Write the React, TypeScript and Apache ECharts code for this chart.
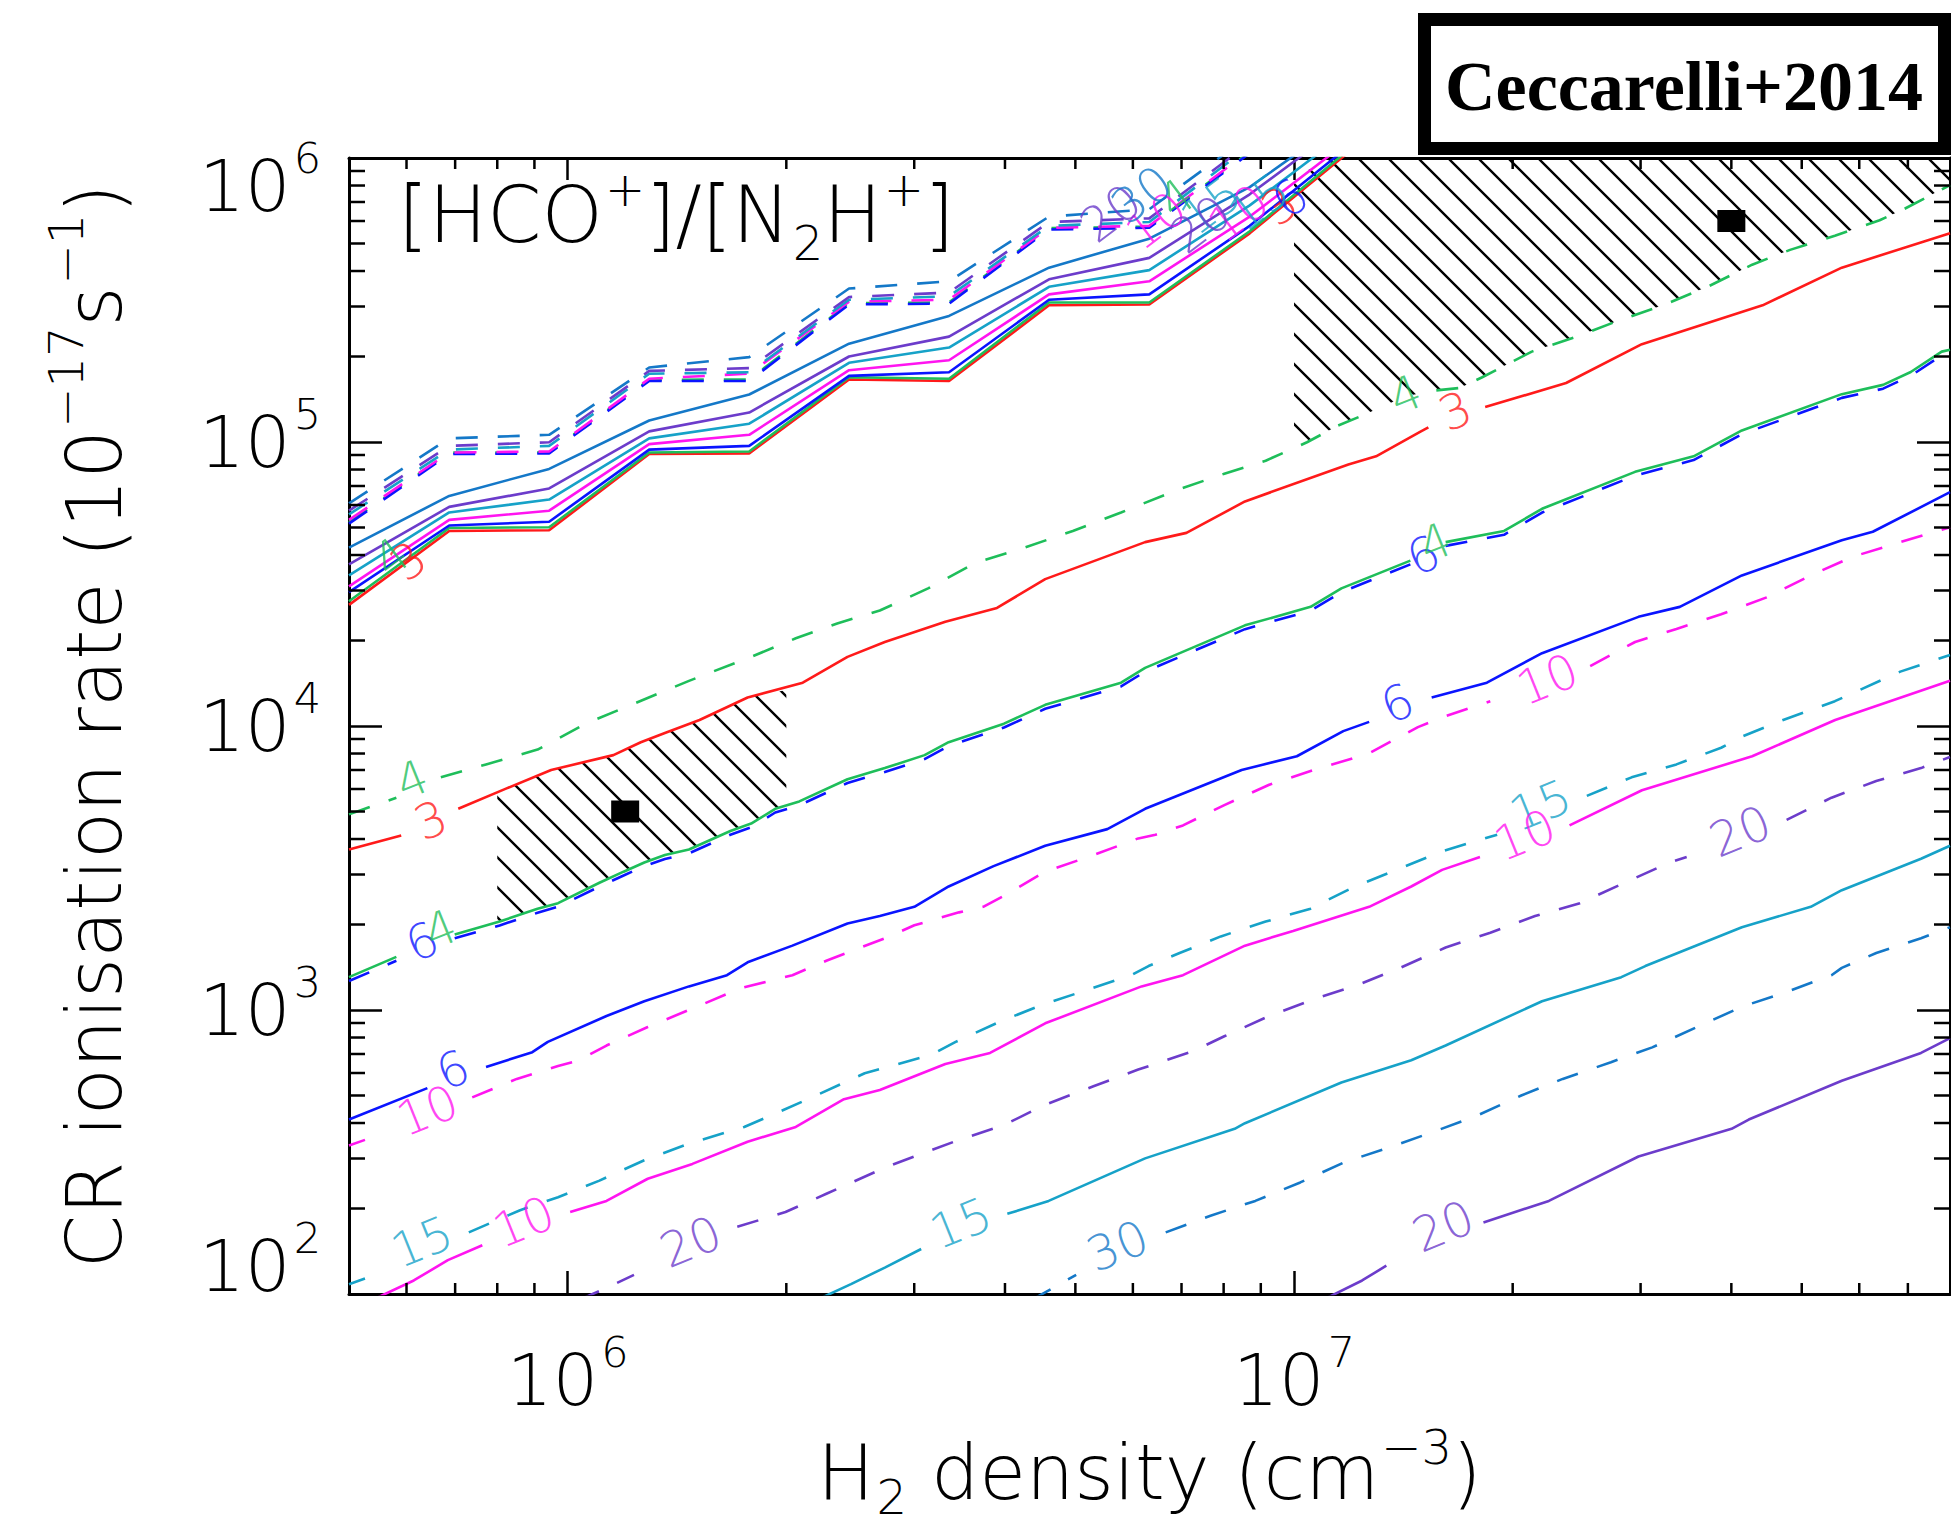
import React, { useEffect, useRef } from "react";
import * as echarts from "echarts";

// ---------- axis ranges & ticks ----------
const X_MIN = 5e5;
const X_MAX = 8e7;
const Y_MIN = 1e2;
const Y_MAX = 1e6;
const xMinorTicks = [6e5, 7e5, 8e5, 9e5, 2e6, 3e6, 4e6, 5e6, 6e6, 7e6, 8e6, 9e6, 2e7, 3e7, 4e7, 5e7, 6e7, 7e7];
const yMinorTicks = [
  2e2, 3e2, 4e2, 5e2, 6e2, 7e2, 8e2, 9e2,
  2e3, 3e3, 4e3, 5e3, 6e3, 7e3, 8e3, 9e3,
  2e4, 3e4, 4e4, 5e4, 6e4, 7e4, 8e4, 9e4,
  2e5, 3e5, 4e5, 5e5, 6e5, 7e5, 8e5, 9e5,
];

type Pt = [number, number] | null;

// ---------- upper branch contours (solid) ----------
const upperRed3: Pt[] = [[5.0e5, 2.67e4], [6.87e5, 4.86e4], [9.43e5, 4.89e4], [1.295e6, 9.07e4], [1.778e6, 9.12e4], [2.44e6, 1.66e5], [3.35e6, 1.64e5], [4.6e6, 3.03e5], [6.32e6, 3.05e5], [8.69e6, 5.43e5], [1.19e7, 1.05e6]];
const upperGreen4: Pt[] = [[5.0e5, 2.75e4], [6.87e5, 4.98e4], [9.43e5, 5.01e4], [1.295e6, 9.18e4], [1.778e6, 9.26e4], [2.44e6, 1.69e5], [3.35e6, 1.67e5], [4.6e6, 3.1e5], [6.32e6, 3.1e5], [8.69e6, 5.52e5], [1.19e7, 1.07e6]];
const upperBlue6: Pt[] = [[5.0e5, 2.96e4], [6.87e5, 5.08e4], [9.43e5, 5.24e4], [1.295e6, 9.4e4], [1.778e6, 9.69e4], [2.44e6, 1.71e5], [3.35e6, 1.76e5], [4.6e6, 3.17e5], [6.32e6, 3.31e5], [8.69e6, 5.77e5], [1.19e7, 1.1e6]];
const upperMagenta10: Pt[] = [[5.0e5, 3.1e4], [6.87e5, 5.32e4], [9.43e5, 5.73e4], [1.295e6, 9.83e4], [1.778e6, 1.06e5], [2.44e6, 1.79e5], [3.35e6, 1.94e5], [4.6e6, 3.31e5], [6.32e6, 3.68e5], [8.69e6, 6.22e5], [1.19e7, 1.15e6]];
const upperTeal15: Pt[] = [[5.0e5, 3.39e4], [6.87e5, 5.65e4], [9.43e5, 6.27e4], [1.295e6, 1.03e5], [1.778e6, 1.16e5], [2.44e6, 1.9e5], [3.35e6, 2.15e5], [4.6e6, 3.52e5], [6.32e6, 4.03e5], [8.69e6, 6.81e5], [1.19e7, 1.25e6]];
const upperPurple20: Pt[] = [[5.0e5, 3.71e4], [6.87e5, 5.91e4], [9.43e5, 6.86e4], [1.295e6, 1.09e5], [1.778e6, 1.27e5], [2.44e6, 2.0e5], [3.35e6, 2.35e5], [4.6e6, 3.74e5], [6.32e6, 4.45e5], [8.69e6, 7.45e5], [1.19e7, 1.35e6]];
const upperSteel30: Pt[] = [[5.0e5, 4.25e4], [6.87e5, 6.46e4], [9.43e5, 8.04e4], [1.295e6, 1.19e5], [1.778e6, 1.47e5], [2.44e6, 2.22e5], [3.35e6, 2.78e5], [4.6e6, 4.11e5], [6.32e6, 5.2e5], [8.69e6, 7.9e5], [1.19e7, 1.4e6]];

// ---------- upper branch contours (dashed) ----------
const upperGreenDash4: Pt[] = [[5.0e5, 5.22e4], [6.87e5, 9.17e4], [9.43e5, 9.2e4], [1.295e6, 1.655e5], [1.778e6, 1.66e5], [2.44e6, 3.08e5], [3.35e6, 3.1e5], [4.6e6, 5.66e5], [6.32e6, 5.74e5], [8.69e6, 1.05e6]];
const upperBlueDash6: Pt[] = [[5.0e5, 5.16e4], [6.87e5, 9.07e4], [9.43e5, 9.12e4], [1.295e6, 1.64e5], [1.778e6, 1.64e5], [2.44e6, 3.05e5], [3.35e6, 3.07e5], [4.6e6, 5.6e5], [6.32e6, 5.68e5], [8.69e6, 1.04e6]];
const upperMagentaDash10: Pt[] = [[5.0e5, 5.32e4], [6.87e5, 9.18e4], [9.43e5, 9.26e4], [1.295e6, 1.67e5], [1.778e6, 1.74e5], [2.44e6, 3.12e5], [3.35e6, 3.17e5], [4.6e6, 5.68e5], [6.32e6, 5.77e5], [8.69e6, 1.06e6]];
const upperTealDash15: Pt[] = [[5.0e5, 5.56e4], [6.87e5, 9.4e4], [9.43e5, 9.69e4], [1.295e6, 1.74e5], [1.778e6, 1.76e5], [2.44e6, 3.17e5], [3.35e6, 3.26e5], [4.6e6, 5.77e5], [6.32e6, 5.95e5], [8.69e6, 1.1e6]];
const upperPurpleDash20: Pt[] = [[5.0e5, 5.73e4], [6.87e5, 9.69e4], [9.43e5, 9.98e4], [1.295e6, 1.78e5], [1.778e6, 1.82e5], [2.44e6, 3.24e5], [3.35e6, 3.36e5], [4.6e6, 5.95e5], [6.32e6, 6.13e5], [8.69e6, 1.13e6]];
const upperSteelDash30: Pt[] = [[5.0e5, 6.08e4], [6.87e5, 1.03e5], [9.43e5, 1.06e5], [1.295e6, 1.83e5], [1.778e6, 1.99e5], [2.44e6, 3.47e5], [3.35e6, 3.68e5], [4.6e6, 6.22e5], [6.32e6, 6.6e5], [8.69e6, 1.2e6]];

// ---------- lower branch contours ----------
const lowerRed3: Pt[] = [[5.0e5, 3674], [5.9e5, 4118], null, [7.07e5, 5110], [8.24e5, 6029], [9.49e5, 7003], [1.156e6, 7896], [1.261e6, 8768], [1.361e6, 9452], [1.519e6, 10500], [1.769e6, 12600], [2.107e6, 14210], [2.428e6, 17520], [2.733e6, 19760], [3.311e6, 23300], [3.9e6, 26040], [4.544e6, 32900], [6.237e6, 44410], [7.11e6, 47860], [8.56e6, 61770], [1.188e7, 83370], [1.297e7, 89040], [1.491e7, 1.085e5], [1.531e7, 1.125e5], null, [1.833e7, 1.327e5], [2.369e7, 1.613e5], [3.012e7, 2.21e5], [4.416e7, 3.028e5], [5.677e7, 4.111e5], [8.0e7, 5.435e5]];
const lowerGreenDash4: Pt[] = [[5.0e5, 4885], [5.81e5, 5592], null, [6.69e5, 6595], [7.72e5, 7325], [9.09e5, 8259], [1.059e6, 10190], [1.469e6, 14420], [1.789e6, 17520], [2.061e6, 20360], [2.35e6, 22960], [2.69e6, 25500], [3.135e6, 30520], [3.652e6, 37650], [4.256e6, 42460], [4.96e6, 48600], [5.779e6, 56460], [6.88e6, 67560], [8.018e6, 77330], [9.14e6, 85910], [1.042e7, 99800], [1.15e7, 1.142e5], [1.269e7, 1.269e5], null, [1.57e7, 1.52e5], [1.69e7, 1.55e5], [1.813e7, 1.687e5], [2.125e7, 2.081e5], [2.448e7, 2.347e5], [2.791e7, 2.67e5], [3.217e7, 3.028e5], [3.708e7, 3.518e5], [4.273e7, 4.211e5], [4.818e7, 4.748e5], [5.554e7, 5.321e5], [6.4e7, 6.036e5], [6.909e7, 6.602e5], [8.0e7, 8.027e5]];
const lowerGreen4: Pt[] = [[5.0e5, 1305], [5.81e5, 1539], null, [6.99e5, 1843], [8.06e5, 2048], [9.09e5, 2274], [9.7e5, 2378], [1.106e6, 2805], [1.194e6, 3069], [1.275e6, 3308], [1.361e6, 3513], [1.469e6, 3674], [1.675e6, 4269], [1.789e6, 4533], [1.931e6, 5110], [2.084e6, 5427], [2.428e6, 6496], [2.733e6, 7108], [3.1e6, 7896], [3.346e6, 8768], [3.987e6, 10190], [4.544e6, 11870], [5.779e6, 14210], [6.237e6, 16020], [8.56e6, 22620], [1.054e7, 26270], [1.162e7, 30520], [1.446e7, 38220], null, [1.617e7, 44410], [1.946e7, 48600], [2.195e7, 58180], [2.948e7, 78510], [3.549e7, 89040], [4.136e7, 1.098e5], [5.677e7, 1.474e5], [6.471e7, 1.589e5], [7.064e7, 1.764e5], [7.792e7, 2.081e5], [8.0e7, 2.112e5]];
const lowerBlueDash6: Pt[] = [[5.0e5, 1265], [5.81e5, 1490], null, [6.99e5, 1790], [8.06e5, 1985], [9.09e5, 2200], [9.7e5, 2310], [1.106e6, 2720], [1.194e6, 2975], [1.275e6, 3210], [1.361e6, 3400], [1.469e6, 3560], [1.675e6, 4140], [1.789e6, 4400], [1.931e6, 4960], [2.084e6, 5260], [2.428e6, 6300], [2.733e6, 6890], [3.1e6, 7650], [3.346e6, 8500], [3.987e6, 9880], [4.544e6, 11500], [5.779e6, 13780], [6.237e6, 15540], [8.56e6, 21930], [1.054e7, 25480], [1.162e7, 29600], [1.446e7, 37070], null, [1.617e7, 43080], [1.946e7, 47140], [2.195e7, 56430], [2.948e7, 76150], [3.549e7, 86370], [4.136e7, 1.065e5], [5.677e7, 1.43e5], [6.471e7, 1.541e5], [7.064e7, 1.711e5], [7.792e7, 2.02e5], [8.0e7, 2.05e5]];
const lowerBlue6: Pt[] = [[5.0e5, 411.5], [6.41e5, 530.9], null, [7.72e5, 630], [8.94e5, 710.3], [9.39e5, 772.3], [1.131e6, 952.8], [1.275e6, 1074], [1.469e6, 1211], [1.657e6, 1326], [1.769e6, 1472], [2.039e6, 1685], [2.428e6, 2017], [2.69e6, 2142], [3.001e6, 2308], [3.346e6, 2722], [3.858e6, 3211], [4.544e6, 3787], [5.533e6, 4334], [6.237e6, 5110], [8.47e6, 7002], [1.009e7, 7824], [1.169e7, 9594], [1.269e7, 10340], null, [1.547e7, 12600], [1.843e7, 14210], [2.195e7, 18050], [2.98e7, 24230], [3.397e7, 26270], [4.136e7, 33900], [5.677e7, 45080], [6.263e7, 48300], [8.0e7, 66560]];
const lowerMagentaDash10: Pt[] = [[5.0e5, 333.5], [5.26e5, 348.9], null, [7.39e5, 492.5], [8.51e5, 572], [9.7e5, 635.6], [1.036e6, 664.8], [1.131e6, 749.6], [1.289e6, 871], [1.485e6, 1012], [1.731e6, 1193], [2.039e6, 1326], [2.275e6, 1494], [2.733e6, 1789], [3.001e6, 1987], [3.458e6, 2207], [3.733e6, 2308], [3.987e6, 2526], [4.544e6, 3069], [5.295e6, 3512], [6.103e6, 4020], [6.446e6, 4143], [7.033e6, 4466], [8.018e6, 5267], [9.243e6, 6213], [1.065e7, 7002], [1.269e7, 8013], [1.384e7, 9036], [1.481e7, 9910], [1.617e7, 10840], [1.863e7, 12230], null, [2.557e7, 16260], [2.948e7, 19760], [3.361e7, 21950], [3.873e7, 24750], [4.464e7, 28320], [5.145e7, 33900], [5.867e7, 39390], [6.834e7, 44410], [8.0e7, 50070]];
const lowerTealDash15: Pt[] = [[5.0e5, 108.3], [5.26e5, 113.3], null, [7.31e5, 164.8], [8.6e5, 197.3], [9.7e5, 219.2], [1.106e6, 250.8], [1.275e6, 295.8], [1.469e6, 338.5], [1.75e6, 387.4], [1.952e6, 436.9], [2.226e6, 507.6], [2.564e6, 598.6], [3.169e6, 695.7], [3.421e6, 772.3], [3.942e6, 911], [4.495e6, 1042], [5.181e6, 1175], [5.97e6, 1326], [6.305e6, 1428], [6.958e6, 1587], [7.93e6, 1816], [9.14e6, 2048], [1.054e7, 2274], [1.089e7, 2378], [1.214e7, 2722], [1.384e7, 3116], [1.599e7, 3620], [1.904e7, 4143], null, [2.53e7, 5677], [2.916e7, 6595], [3.361e7, 7325], [3.873e7, 8383], [4.136e7, 9174], [4.714e7, 10500], [5.554e7, 12230], [6.834e7, 15540], [8.0e7, 17790]];
const lowerMagenta10: Pt[] = [[5.38e5, 95.2], [6.14e5, 111.6], [6.84e5, 131.6], [7.63e5, 148.4], null, [1.008e6, 194.4], [1.131e6, 212.7], [1.289e6, 254.6], [1.485e6, 287.1], [1.769e6, 343.7], [2.061e6, 387.4], [2.401e6, 485.2], [2.69e6, 522.9], [3.311e6, 645.2], [3.815e6, 706], [4.544e6, 897.6], [6.168e6, 1211], [7.033e6, 1326], [8.56e6, 1685], [9.97e6, 1899], [1.269e7, 2308], [1.45e7, 2722], [1.599e7, 3115], [1.803e7, 3460], null, [2.395e7, 4466], [3.013e7, 5938], [4.273e7, 7824], [5.559e7, 10500], [8.0e7, 14420]];
const lowerPurpleDash20: Pt[] = [[1.036e6, 95.2], [1.131e6, 105.1], [1.234e6, 116.8], null, [1.712e6, 172.4], [1.995e6, 194.4], [2.275e6, 225.8], [2.733e6, 278.6], [3.001e6, 304.8], [3.458e6, 348.9], [3.987e6, 393.3], [4.544e6, 464], [5.295e6, 538.9], [6.103e6, 616.9], [7.268e6, 716.8], [8.018e6, 808.2], [9.243e6, 952.8], [1.065e7, 1091], [1.228e7, 1229], [1.4e7, 1407], [1.617e7, 1660], [1.863e7, 1871], [2.147e7, 2142], [2.475e7, 2378], [2.853e7, 2806], [3.288e7, 3308], [3.472e7, 3460], null, [4.766e7, 4670], [5.495e7, 5592], [6.332e7, 6401], [7.298e7, 7108], [8.0e7, 7780]];
const lowerTeal15: Pt[] = [[2.201e6, 95.2], [2.455e6, 108.3], [2.733e6, 123.9], [3.067e6, 144], null, [4.03e6, 191.5], [4.594e6, 212.7], [6.237e6, 300.3], [8.285e6, 381.6], [8.56e6, 399.3], [1.162e7, 555.3], [1.45e7, 665], [1.617e7, 749.6], [2.195e7, 1074], [2.822e7, 1305], [3.045e7, 1428], [4.136e7, 1957], [5.145e7, 2308], [5.677e7, 2642], [7.298e7, 3409], [8.0e7, 3787]];
const lowerSteelDash30: Pt[] = [[4.35e6, 95.2], [5.013e6, 116.8], null, [6.658e6, 164.8], [7.674e6, 188.7], [8.845e6, 212.7], [1.02e7, 247.1], [1.175e7, 291.4], [1.354e7, 328.6], [1.547e7, 370.5], [1.784e7, 424], [2.055e7, 500.1], [2.344e7, 572], [2.731e7, 655], [3.113e7, 738.5], [3.588e7, 871], [4.136e7, 1027], [4.766e7, 1158], [5.495e7, 1326], [5.677e7, 1407], [6.332e7, 1587], [7.298e7, 1789], [8.0e7, 1957]];
const lowerPurple20: Pt[] = [[1.095e7, 95.2], [1.241e7, 111.6], [1.34e7, 125.8], null, [1.823e7, 178.7], [2.243e7, 212.7], [2.98e7, 304.8], [4.003e7, 381.6], [4.227e7, 411.5], [5.677e7, 563.8], [7.298e7, 706], [8.0e7, 796]];

// ---------- contour label anchor points (data coords) ----------
const upperRed3Labels: Pt[] = [[6.03e5, 3.82e4], [9.55e6, 6.81e5]];
const upperGreen4Labels: Pt[] = [[5.71e5, 3.94e4], [6.88e6, 7.23e5]];
const upperBlue6Labels: Pt[] = [[9.87e6, 7.23e5]];
const upperMagenta10Labels: Pt[] = [[6.45e6, 6.04e5], [8.38e6, 6.41e5]];
const upperTeal15Labels: Pt[] = [[7.68e6, 6.81e5]];
const upperPurple20Labels: Pt[] = [[5.59e6, 6.41e5], [7.43e6, 5.86e5]];
const upperSteel30Labels: Pt[] = [[6.17e6, 7.45e5]];
const upperTealDash15Labels: Pt[] = [[8.94e6, 7.01e5]];
const lowerRed3Labels: Pt[] = [[6.48e5, 4670], [1.667e7, 1.288e5]];
const lowerGreenDash4Labels: Pt[] = [[6.1e5, 6497], [1.423e7, 1.474e5]];
const lowerGreen4Labels: Pt[] = [[6.68e5, 1928], [1.564e7, 4.44e4]];
const lowerBlueDash6Labels: Pt[] = [[6.3e5, 1746], [1.506e7, 4.0e4]];
const lowerBlue6Labels: Pt[] = [[6.95e5, 617], [1.387e7, 1.205e4]];
const lowerMagentaDash10Labels: Pt[] = [[6.41e5, 444], [2.232e7, 1.464e4]];
const lowerTealDash15Labels: Pt[] = [[6.3e5, 153], [2.183e7, 5267]];
const lowerMagenta10Labels: Pt[] = [[8.7e5, 180], [2.078e7, 4143]];
const lowerPurpleDash20Labels: Pt[] = [[1.477e6, 153], [4.113e7, 4269]];
const lowerTeal15Labels: Pt[] = [[3.477e6, 178]];
const lowerSteelDash30Labels: Pt[] = [[5.715e6, 148]];
const lowerPurple20Labels: Pt[] = [[1.604e7, 173.5]];

// ---------- hatched (observed) regions & observed points ----------
const hatchRegion1: [number, number][] = [[8e5, 2040], [9.09e5, 2274], [9.7e5, 2378], [1.106e6, 2805], [1.194e6, 3069], [1.275e6, 3308], [1.361e6, 3513], [1.469e6, 3674], [1.675e6, 4269], [1.789e6, 4533], [1.931e6, 5110], [2.0e6, 5250], [2.0e6, 13400], [1.769e6, 12600], [1.519e6, 10500], [1.361e6, 9452], [1.261e6, 8768], [1.156e6, 7896], [9.49e5, 7003], [8.24e5, 6029], [8e5, 5830]];
const hatchRegion2: [number, number][] = [[1e7, 1.0e5], [1.042e7, 99800], [1.15e7, 1.142e5], [1.269e7, 1.269e5], [1.423e7, 1.45e5], [1.57e7, 1.52e5], [1.69e7, 1.55e5], [1.813e7, 1.687e5], [2.125e7, 2.081e5], [2.448e7, 2.347e5], [2.791e7, 2.67e5], [3.217e7, 3.028e5], [3.708e7, 3.518e5], [4.273e7, 4.211e5], [4.818e7, 4.748e5], [5.554e7, 5.321e5], [6.4e7, 6.036e5], [6.909e7, 6.602e5], [8e7, 8.027e5], [8e7, 1e6], [1.12e7, 1e6], [1e7, 8.5e5]];
const obsPoints: [number, number][] = [[1.2e6, 5.0e3], [4.0e7, 6.0e5]];

// ---------- styles ----------
const RED = "#ff1a1a";
const GREEN = "#1ebe5a";
const BLUE = "#0a14ff";
const MAGENTA = "#ff14f0";
const TEAL = "#16a2c8";
const PURPLE = "#6c3ccb";
const STEEL = "#1478c8";
const FONT = "'DejaVu Sans', sans-serif";
const FW = 200;
const DASH = [22, 20];

const UPPER_ROT = 37;
const LOWER_ROT = 22;

const contours = [
  { data: upperRed3, color: RED, dashed: false, text: "3", labels: upperRed3Labels, rot: UPPER_ROT },
  { data: upperGreen4, color: GREEN, dashed: false, text: "4", labels: upperGreen4Labels, rot: UPPER_ROT },
  { data: upperBlue6, color: BLUE, dashed: false, text: "6", labels: upperBlue6Labels, rot: UPPER_ROT },
  { data: upperMagenta10, color: MAGENTA, dashed: false, text: "10", labels: upperMagenta10Labels, rot: UPPER_ROT },
  { data: upperTeal15, color: TEAL, dashed: false, text: "15", labels: upperTeal15Labels, rot: UPPER_ROT },
  { data: upperPurple20, color: PURPLE, dashed: false, text: "20", labels: upperPurple20Labels, rot: UPPER_ROT },
  { data: upperSteel30, color: STEEL, dashed: false, text: "30", labels: upperSteel30Labels, rot: UPPER_ROT },
  { data: upperGreenDash4, color: GREEN, dashed: true, text: "4", labels: [], rot: UPPER_ROT },
  { data: upperBlueDash6, color: BLUE, dashed: true, text: "6", labels: [], rot: UPPER_ROT },
  { data: upperMagentaDash10, color: MAGENTA, dashed: true, text: "10", labels: [], rot: UPPER_ROT },
  { data: upperTealDash15, color: TEAL, dashed: true, text: "15", labels: upperTealDash15Labels, rot: UPPER_ROT },
  { data: upperPurpleDash20, color: PURPLE, dashed: true, text: "20", labels: [], rot: UPPER_ROT },
  { data: upperSteelDash30, color: STEEL, dashed: true, text: "30", labels: [], rot: UPPER_ROT },
  { data: lowerBlueDash6, color: BLUE, dashed: true, text: "6", labels: lowerBlueDash6Labels, rot: LOWER_ROT },
  { data: lowerGreenDash4, color: GREEN, dashed: true, text: "4", labels: lowerGreenDash4Labels, rot: LOWER_ROT },
  { data: lowerMagentaDash10, color: MAGENTA, dashed: true, text: "10", labels: lowerMagentaDash10Labels, rot: LOWER_ROT },
  { data: lowerTealDash15, color: TEAL, dashed: true, text: "15", labels: lowerTealDash15Labels, rot: LOWER_ROT },
  { data: lowerPurpleDash20, color: PURPLE, dashed: true, text: "20", labels: lowerPurpleDash20Labels, rot: LOWER_ROT },
  { data: lowerSteelDash30, color: STEEL, dashed: true, text: "30", labels: lowerSteelDash30Labels, rot: LOWER_ROT },
  { data: lowerRed3, color: RED, dashed: false, text: "3", labels: lowerRed3Labels, rot: LOWER_ROT },
  { data: lowerGreen4, color: GREEN, dashed: false, text: "4", labels: lowerGreen4Labels, rot: LOWER_ROT },
  { data: lowerBlue6, color: BLUE, dashed: false, text: "6", labels: lowerBlue6Labels, rot: LOWER_ROT },
  { data: lowerMagenta10, color: MAGENTA, dashed: false, text: "10", labels: lowerMagenta10Labels, rot: LOWER_ROT },
  { data: lowerTeal15, color: TEAL, dashed: false, text: "15", labels: lowerTeal15Labels, rot: LOWER_ROT },
  { data: lowerPurple20, color: PURPLE, dashed: false, text: "20", labels: lowerPurple20Labels, rot: LOWER_ROT },
];

function makeHatchPattern() {
  const s = 30;
  const c = document.createElement("canvas");
  c.width = s;
  c.height = s;
  const ctx = c.getContext("2d")!;
  ctx.strokeStyle = "#000";
  ctx.lineWidth = 2.4;
  ctx.beginPath();
  ctx.moveTo(-4, -4);
  ctx.lineTo(s + 4, s + 4);
  ctx.moveTo(s - 4, -4);
  ctx.lineTo(s + 4, 4);
  ctx.moveTo(-4, s - 4);
  ctx.lineTo(4, s + 4);
  ctx.stroke();
  return { image: c, repeat: "repeat", imageWidth: s, imageHeight: s };
}

const baseTok = { fontFamily: FONT, fontWeight: FW, color: "#000", verticalAlign: "middle" };

export default function App() {
  const ref = useRef<HTMLDivElement>(null);
  useEffect(() => {
    document.body.style.margin = "0";
    const chart = echarts.init(ref.current!, null, { renderer: "svg" });
    const pattern = makeHatchPattern();

    const hatchSeries = (region: [number, number][]) => ({
      type: "custom",
      coordinateSystem: "cartesian2d",
      data: [region[0]],
      encode: { x: 0, y: 1 },
      clip: true,
      silent: true,
      z: 1,
      renderItem: (_p: any, api: any) => ({
        type: "polygon",
        shape: { points: region.map((pt) => api.coord(pt)) },
        style: { fill: pattern, stroke: null },
      }),
    });

    const lineSeries = contours.map((c) => ({
      type: "line",
      data: c.data.map((p) => (p ? p : ["-", "-"])),
      showSymbol: false,
      symbol: "none",
      connectNulls: false,
      clip: true,
      silent: true,
      z: 3,
      lineStyle: { color: c.color, width: 2.6, type: c.dashed ? DASH : "solid" },
    }));

    const labelData: any[] = [];
    contours.forEach((c) => {
      c.labels.forEach((p) => {
        if (!p) return;
        labelData.push({ value: p, label: { formatter: c.text, color: c.color, rotate: c.rot } });
      });
    });

    const xLabelRich = {
      b: { ...baseTok, fontSize: 72 },
      e: { ...baseTok, fontSize: 43, padding: [0, 0, 57, 3] },
    };
    const yLabelRich = {
      b: { ...baseTok, fontSize: 72 },
      e: { ...baseTok, fontSize: 43, padding: [0, 0, 57, 3] },
      bt: { ...baseTok, fontSize: 72, padding: [56, 0, 0, 0] },
      et: { ...baseTok, fontSize: 43, padding: [56, 0, 57, 3] },
      bb: { ...baseTok, fontSize: 72, padding: [0, 0, 56, 0] },
      eb: { ...baseTok, fontSize: 43, padding: [0, 0, 113, 3] },
    };
    const expOf = (v: number) => Math.round(Math.log10(v));

    const axisLine = { show: true, lineStyle: { color: "#000", width: 3 } };

    const option: any = {
      animation: false,
      textStyle: { fontFamily: FONT },
      grid: { left: 349, right: 1, top: 158, bottom: 233, containLabel: false, outerBoundsMode: "none" },
      xAxis: [
        {
          type: "log",
          logBase: 10,
          min: X_MIN,
          max: X_MAX,
          position: "bottom",
          axisLine,
          axisTick: { inside: true, length: 23, lineStyle: { color: "#000", width: 2.5 } },
          splitLine: { show: false },
          axisLabel: {
            margin: 36,
            showMinLabel: false,
            showMaxLabel: false,
            formatter: (v: number) => `{b|10}{e|${expOf(v)}}`,
            rich: xLabelRich,
          },
          name: "{b|H}{sub|2}{b| density (cm}{sup|−3}{b|)}",
          nameLocation: "middle",
          nameGap: 129,
          nameTextStyle: {
            rich: {
              b: { ...baseTok, fontSize: 76 },
              sub: { ...baseTok, fontSize: 48, padding: [50, 0, 0, 2] },
              sup: { ...baseTok, fontSize: 48, padding: [0, 0, 50, 2] },
            },
          },
        },
        {
          type: "log",
          logBase: 10,
          min: X_MIN,
          max: X_MAX,
          position: "top",
          axisLine,
          axisTick: { inside: true, length: 22, lineStyle: { color: "#000", width: 2.5 } },
          axisLabel: { show: false },
          splitLine: { show: false },
        },
      ],
      yAxis: [
        {
          type: "log",
          logBase: 10,
          min: Y_MIN,
          max: Y_MAX,
          position: "left",
          axisLine,
          axisTick: { inside: true, length: 33, lineStyle: { color: "#000", width: 2.5 } },
          splitLine: { show: false },
          axisLabel: {
            margin: 28,
            formatter: (v: number) => {
              const e = expOf(v);
              if (v >= Y_MAX * 0.999) return `{bt|10}{et|${e}}`;
              if (v <= Y_MIN * 1.001) return `{bb|10}{eb|${e}}`;
              return `{b|10}{e|${e}}`;
            },
            rich: yLabelRich,
          },
          name: "{b|CR ionisation rate (10}{sup|−17}{b|s}{sup|−1}{b|)}",
          nameLocation: "middle",
          nameGap: 203,
          nameTextStyle: {
            rich: {
              b: { ...baseTok, fontSize: 77 },
              sup: { ...baseTok, fontSize: 48, padding: [0, 0, 56, 2] },
            },
          },
        },
        {
          type: "log",
          logBase: 10,
          min: Y_MIN,
          max: Y_MAX,
          position: "right",
          axisLine,
          axisTick: { inside: true, length: 33, lineStyle: { color: "#000", width: 2.5 } },
          axisLabel: { show: false },
          splitLine: { show: false },
        },
      ],
      series: [
        hatchSeries(hatchRegion1),
        hatchSeries(hatchRegion2),
        ...lineSeries,
        {
          type: "scatter",
          data: labelData,
          symbol: "circle",
          symbolSize: 2,
          itemStyle: { color: "rgba(0,0,0,0)" },
          silent: true,
          z: 4,
          label: {
            show: true,
            position: "inside",
            fontSize: 48,
            fontFamily: FONT,
            fontWeight: FW,
          },
        },
        {
          type: "scatter",
          data: obsPoints,
          symbol: "rect",
          symbolSize: [28, 22],
          itemStyle: { color: "#000", opacity: 1 },
          silent: true,
          z: 6,
        },
        {
          type: "custom",
          data: xMinorTicks.map((v) => [v, Y_MIN]),
          encode: { x: 0, y: 1 },
          silent: true,
          z: 7,
          renderItem: (params: any, api: any) => {
            const cs = params.coordSys;
            const p = api.coord([api.value(0), Y_MIN]);
            const st = { stroke: "#000", lineWidth: 2.5 };
            return {
              type: "group",
              children: [
                { type: "line", shape: { x1: p[0], y1: cs.y + cs.height, x2: p[0], y2: cs.y + cs.height - 11 }, style: st },
                { type: "line", shape: { x1: p[0], y1: cs.y, x2: p[0], y2: cs.y + 11 }, style: st },
              ],
            };
          },
        },
        {
          type: "custom",
          data: yMinorTicks.map((v) => [X_MIN, v]),
          encode: { x: 0, y: 1 },
          silent: true,
          z: 7,
          renderItem: (params: any, api: any) => {
            const cs = params.coordSys;
            const p = api.coord([X_MIN, api.value(1)]);
            const st = { stroke: "#000", lineWidth: 2.5 };
            return {
              type: "group",
              children: [
                { type: "line", shape: { x1: cs.x, y1: p[1], x2: cs.x + 16, y2: p[1] }, style: st },
                { type: "line", shape: { x1: cs.x + cs.width, y1: p[1], x2: cs.x + cs.width - 16, y2: p[1] }, style: st },
              ],
            };
          },
        },
      ],
      graphic: [
        {
          type: "text",
          left: 398,
          top: 165,
          z: 10,
          style: {
            text: "{b|[HCO}{sup|+}{b|]/[N}{sub|2}{b|H}{sup|+}{b|]}",
            rich: {
              b: { ...baseTok, fontSize: 78 },
              sup: { ...baseTok, fontSize: 48, padding: [0, 0, 52, 2] },
              sub: { ...baseTok, fontSize: 48, padding: [56, 0, 0, 2] },
            },
          },
        },
        {
          type: "rect",
          shape: { x: 1424.5, y: 19.5, width: 520, height: 129 },
          style: { fill: "#fff", stroke: "#000", lineWidth: 13 },
          z: 10,
        },
        {
          type: "text",
          x: 1684,
          y: 86,
          z: 11,
          style: {
            text: "Ceccarelli+2014",
            fontFamily: "'Liberation Serif', serif",
            fontWeight: "bold",
            fontSize: 70,
            fill: "#000",
            align: "center",
            verticalAlign: "middle",
          },
        },
      ],
    };
    chart.setOption(option);
    return () => chart.dispose();
  }, []);
  return <div ref={ref} style={{ width: 1951, height: 1527 }} />;
}
